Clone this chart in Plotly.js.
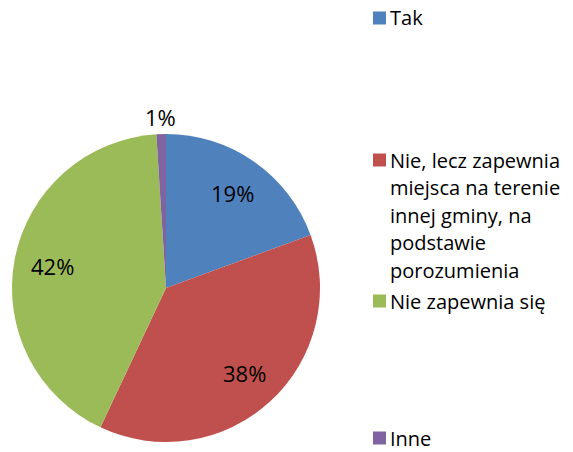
<!DOCTYPE html>
<html>
<head>
<meta charset="utf-8">
<script src="https://cdn.plot.ly/plotly-3.0.1.min.js"></script>
<style>
  html, body { margin: 0; padding: 0; background: #fff; }
  #chart { width: 573px; height: 452px; }
</style>
</head>
<body>
<div id="chart"></div>
<script>
// slice data, clockwise from 12 o'clock
var labels = ['Tak', 'Nie, lecz zapewnia miejsca na terenie innej gminy, na podstawie porozumienia', 'Nie zapewnia się', 'Inne'];
var values = [19.4, 37.6, 42.0, 1.0];
var colors = ['#4F81BD', '#C0504D', '#9BBB59', '#8064A2'];

var font = 'Open Sans, Liberation Sans, sans-serif';
var W = 573, H = 452;
var cx = 166, cy = 288, R = 154;   // pie centre / radius in px

// split long legend labels into lines like the original
function wrap(s, max) {
  var words = s.split(' '), lines = [], cur = '';
  words.forEach(function (w) {
    if (cur && (cur + ' ' + w).length > max) { lines.push(cur); cur = w; }
    else cur = cur ? cur + ' ' + w : w;
  });
  if (cur) lines.push(cur);
  return lines;
}

var trace = {
  type: 'pie',
  labels: labels,
  values: values,
  sort: false,
  direction: 'clockwise',
  rotation: 0,
  marker: { colors: colors, line: { color: '#fff', width: 0 } },
  textinfo: 'none',
  hoverinfo: 'label+percent',
  domain: { x: [(cx - R) / W, (cx + R) / W], y: [1 - (cy + R) / H, 1 - (cy - R) / H] },
  showlegend: false
};

var annotations = [], shapes = [];

// percentage labels placed Excel-style (inside ~0.75r, small slices outside)
var total = values.reduce(function (a, b) { return a + b; }, 0);
var cum = 0;
values.forEach(function (v, i) {
  var frac = v / total;
  var mid = (cum + frac / 2) * 2 * Math.PI;
  cum += frac;
  var rr = frac < 0.03 ? 1.11 : 0.75;
  var px = cx + Math.sin(mid) * R * rr;
  var py = cy - Math.cos(mid) * R * rr;
  annotations.push({
    xref: 'paper', yref: 'paper', x: px / W, y: 1 - py / H,
    xanchor: 'center', yanchor: 'middle', showarrow: false,
    text: Math.round(frac * 100) + '%',
    font: { family: font, size: 22, color: '#000' }
  });
});

// hand-made legend on the right
var itemY = [18, 160, 301, 438];
var lineGap = 27.5;
labels.forEach(function (lab, i) {
  var y0 = itemY[i];
  shapes.push({
    type: 'rect', xref: 'paper', yref: 'paper',
    x0: 373 / W, x1: 386 / W,
    y0: 1 - (y0 + 6.5) / H, y1: 1 - (y0 - 6.5) / H,
    fillcolor: colors[i], line: { width: 0 }
  });
  wrap(lab, 18).forEach(function (ln, k) {
    annotations.push({
      xref: 'paper', yref: 'paper',
      x: 389 / W, y: 1 - (y0 + k * lineGap) / H,
      xanchor: 'left', yanchor: 'middle',
      text: ln, showarrow: false, borderpad: 0,
      font: { family: font, size: 20, color: '#000' }
    });
  });
});

var layout = {
  width: W, height: H,
  margin: { l: 0, r: 0, t: 0, b: 0 },
  paper_bgcolor: '#fff',
  showlegend: false,
  annotations: annotations,
  shapes: shapes
};

Plotly.newPlot('chart', [trace], layout, { displayModeBar: false, staticPlot: true });
</script>
</body>
</html>
